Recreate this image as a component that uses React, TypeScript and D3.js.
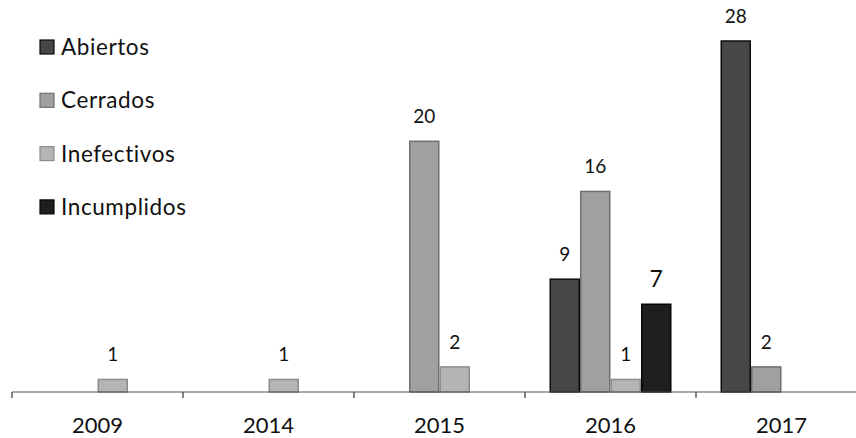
import * as d3 from 'd3';

const years = ['2009', '2014', '2015', '2016', '2017'];
const seriesNames = ['Abiertos', 'Cerrados', 'Inefectivos', 'Incumplidos'];

const abiertos = [0, 0, 0, 9, 28];
const cerrados = [0, 0, 20, 16, 2];
const inefectivos = [1, 1, 2, 1, 0];
const incumplidos = [0, 0, 0, 7, 0];

const seriesValues = [abiertos, cerrados, inefectivos, incumplidos];
const fills = ['#474747', '#a0a0a0', '#b4b4b4', '#1e1e1e'];
const strokes = ['#0c0c0c', '#6f6f6f', '#8c8c8c', '#050505'];

export default function App() {
  const width = 856;
  const height = 438;
  const baseline = 392;
  const font = 'Lato, "Open Sans", sans-serif';

  const x = d3.scaleBand<string>().domain(years).range([12, 867]);
  const xSub = d3
    .scaleBand<string>()
    .domain(seriesNames)
    .range([x.bandwidth() / 2 - 61, x.bandwidth() / 2 + 61]);

  const y = d3.scaleLinear().domain([0, 28]).range([baseline, 41]);

  const bars = seriesNames.flatMap((name, si) =>
    years.map((yr, i) => ({ name, si, yr, value: seriesValues[si][i] }))
  ).filter(d => d.value > 0);

  const ticks = years.map(yr => x(yr)!).concat([x('2017')! + x.bandwidth()]);

  return (
    <svg
      width={width}
      height={height}
      style={{ position: 'absolute', left: 0, top: 0, background: '#fff' }}
    >
      {/* Bars */}
      {bars.map((d, i) => (
        <rect
          key={i}
          x={x(d.yr)! + xSub(d.name)! + 0.75}
          y={y(d.value)}
          width={xSub.bandwidth() - 1.5}
          height={baseline - y(d.value)}
          fill={fills[d.si]}
          stroke={strokes[d.si]}
          strokeWidth={1.5}
        />
      ))}

      {/* Value labels */}
      {bars.map((d, i) => (
        <text
          key={i}
          x={x(d.yr)! + xSub(d.name)! + xSub.bandwidth() / 2}
          y={y(d.value) - (d.name === 'Incumplidos' ? 17 : 18)}
          textAnchor="middle"
          fontFamily={font}
          fontSize={d.name === 'Incumplidos' ? 23 : 19}
          fill="#111"
        >
          {d.value}
        </text>
      ))}

      {/* X axis */}
      <line x1={12} x2={width} y1={baseline} y2={baseline} stroke="#555" strokeWidth={1.2} />
      {ticks.map((t, i) => (
        <line key={i} x1={t} x2={t} y1={baseline} y2={baseline + 6} stroke="#333" strokeWidth={1.2} />
      ))}
      {years.map(yr => (
        <text
          key={yr}
          x={x(yr)! + x.bandwidth() / 2}
          y={433}
          textAnchor="middle"
          fontFamily={font}
          fontSize={22}
          fill="#111"
        >
          {yr}
        </text>
      ))}

      {/* Legend */}
      {seriesNames.map((name, i) => (
        <g key={name} transform={`translate(40, ${40 + i * 53.3})`}>
          <rect width={14} height={14} fill={fills[i]} stroke={strokes[i]} strokeWidth={1.2} />
          <text x={21} y={15} fontFamily={font} fontSize={22.5} letterSpacing={0.6} fill="#111">
            {name}
          </text>
        </g>
      ))}
    </svg>
  );
}
